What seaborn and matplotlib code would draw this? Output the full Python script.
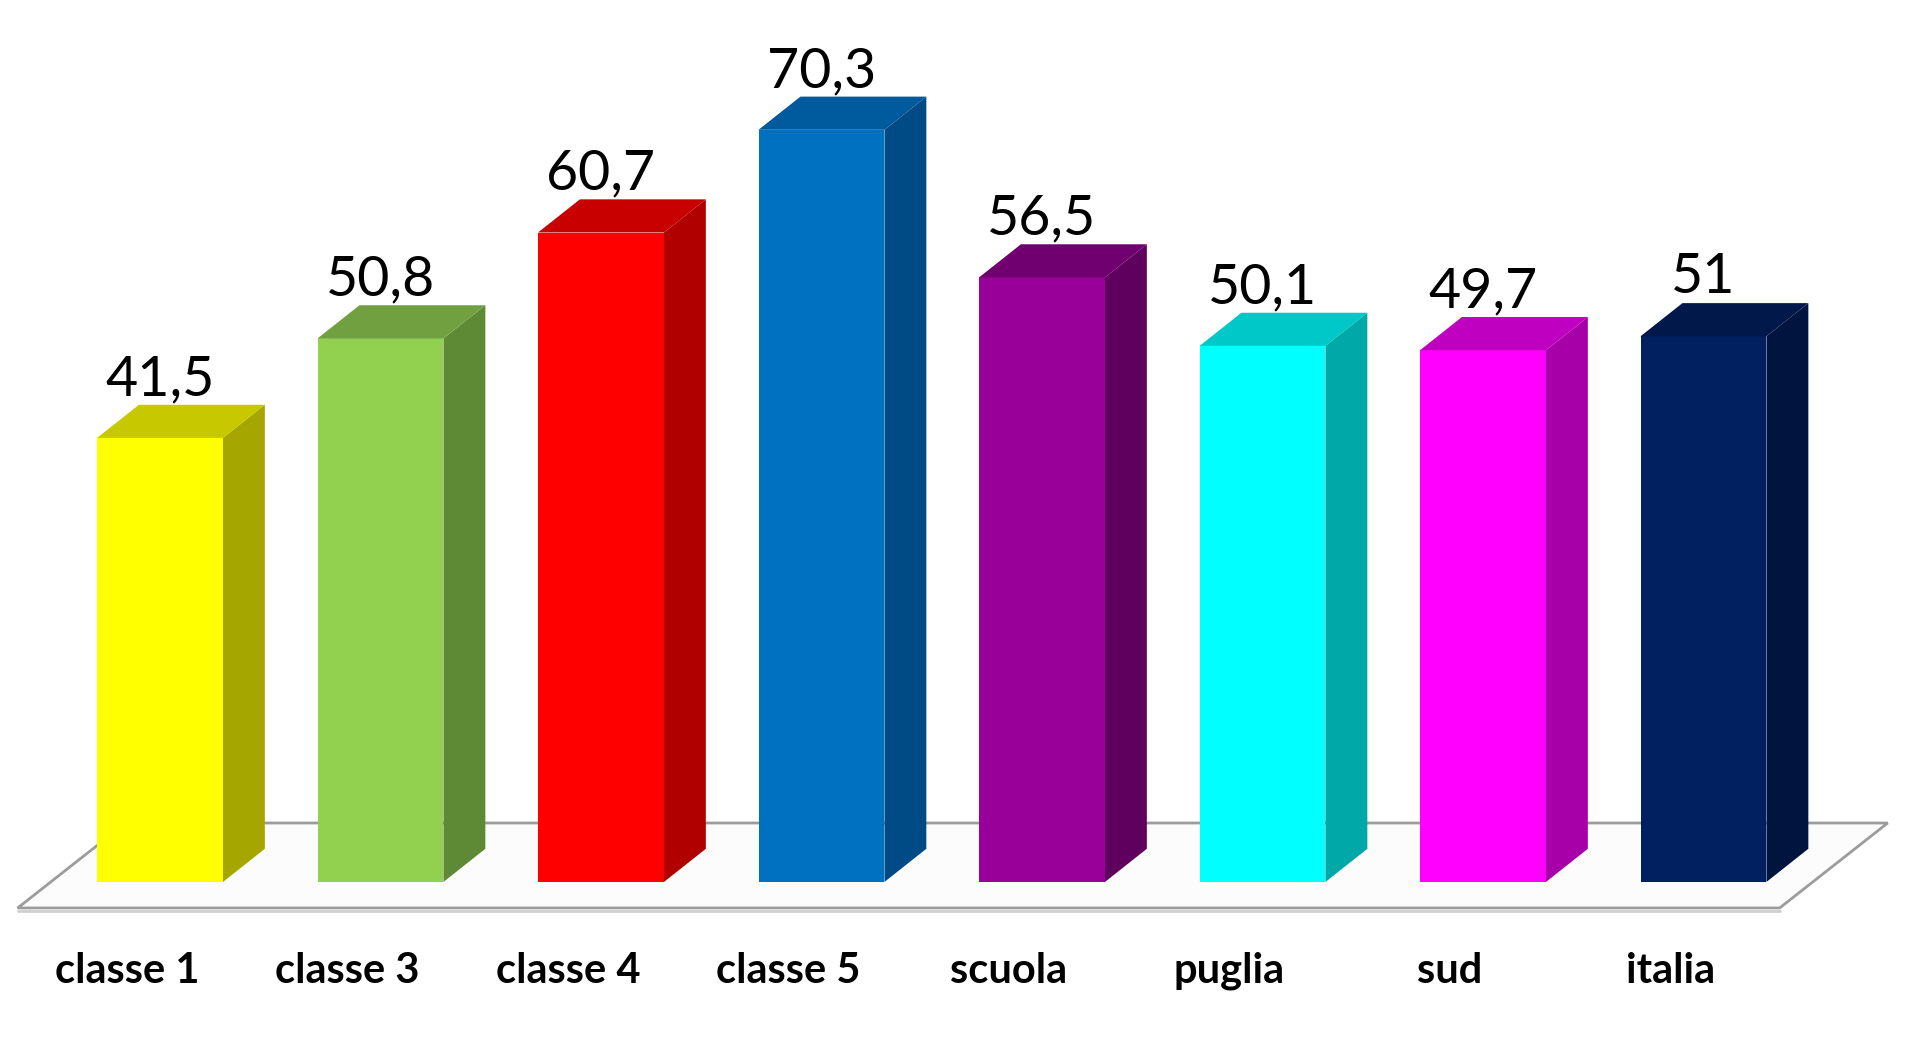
import numpy as np
import matplotlib
matplotlib.use('Agg')
import matplotlib.pyplot as plt
import seaborn as sns

# Data
categories = ['classe 1', 'classe 3', 'classe 4', 'classe 5', 'scuola', 'puglia', 'sud', 'italia']
values = [41.5, 50.8, 60.7, 70.3, 56.5, 50.1, 49.7, 51]

front_colors = ['#FFFF00', '#92D050', '#FF0000', '#0070C0', '#990099', '#00FFFF', '#FF00FF', '#002060']
side_colors = ['#A6A600', '#5E8A35', '#B00000', '#004B85', '#5F005F', '#00A8A8', '#A800A8', '#001440']
top_colors = ['#C8C800', '#70A040', '#C80000', '#005A9E', '#700070', '#00C8C8', '#C000C0', '#00184A']

sns.set_theme(style='white')
plt.rcParams['font.family'] = ['Lato', 'DejaVu Sans']

# 3d look: depth of bars and of the floor (data units)
BAR_W = 0.571
DX, DY = 0.19, 3.1
FLOOR_SHIFT = (-0.15, -2.43)
FLOOR_DEPTH = (0.49, 7.94)
FLOOR_PAD = 0.21

fig = plt.figure(figsize=(19.12, 10.37), dpi=100)
ax = fig.add_axes([0, 0, 1, 1])

sns.barplot(x=categories, y=values, hue=categories, palette=front_colors, legend=False,
            width=BAR_W, saturation=1, linewidth=0, ax=ax, zorder=3)

patches = sorted(ax.patches, key=lambda p: p.get_x())

# floor
left = patches[0].get_x() - FLOOR_PAD + FLOOR_SHIFT[0]
right = patches[-1].get_x() + BAR_W + FLOOR_PAD + FLOOR_SHIFT[0]
fy = FLOOR_SHIFT[1]
floor_x = [left, right, right + FLOOR_DEPTH[0], left + FLOOR_DEPTH[0]]
floor_y = [fy, fy, fy + FLOOR_DEPTH[1], fy + FLOOR_DEPTH[1]]
ax.fill(floor_x, floor_y, facecolor='#FCFCFC', edgecolor='#9C9C9C', linewidth=2, zorder=1)
ax.plot([left, right], [fy - 0.25, fy - 0.25], color='#CFCFCF', linewidth=2, zorder=0.9)

for p, v, sc, tc in zip(patches, values, side_colors, top_colors):
    x0 = p.get_x()
    x1 = x0 + p.get_width()
    h = p.get_height()
    ax.fill([x1, x1 + DX, x1 + DX, x1], [0, DY, h + DY, h], color=sc, linewidth=0, zorder=3)
    ax.fill([x0, x0 + DX, x1 + DX, x1], [h, h + DY, h + DY, h], color=tc, linewidth=0, zorder=3)
    label = f'{v:g}'.replace('.', ',')
    ax.text((x0 + x1) / 2, h + DY + 0.9, label, ha='center', va='baseline',
            fontsize=40, color='black', zorder=4)

for i, cat in enumerate(categories):
    ax.text(i + FLOOR_SHIFT[0], -9.44, cat, ha='center', va='baseline',
            fontsize=30, fontweight='bold', color='black')

ax.set_xlim(-0.7256, 7.9456)
ax.set_ylim(-14.49, 82.43)
ax.axis('off')

fig.savefig('out.png', dpi=100, facecolor='white')
